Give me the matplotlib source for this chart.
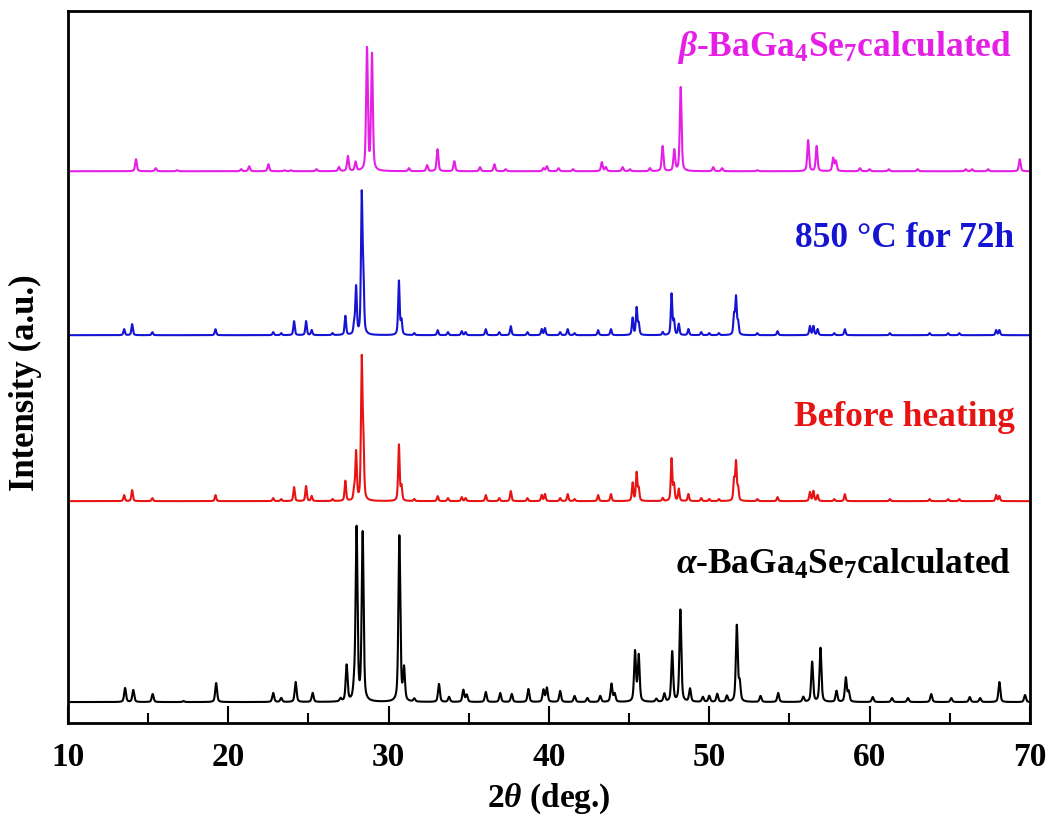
import numpy as np
import matplotlib
matplotlib.use("Agg")
import matplotlib.pyplot as plt

plt.rcParams['font.family'] = ['Liberation Serif', 'DejaVu Serif']
plt.rcParams['font.weight'] = 'bold'
plt.rcParams['mathtext.fontset'] = 'custom'
plt.rcParams['mathtext.rm'] = 'Liberation Serif:bold'
plt.rcParams['mathtext.it'] = 'Liberation Serif:bold:italic'
plt.rcParams['mathtext.bf'] = 'Liberation Serif:bold'
plt.rcParams['mathtext.default'] = 'regular'

# peak lists: position (2theta, deg) and height (a.u.)
alpha_pos = [13.56, 14.07, 15.28, 17.2, 19.24, 22.8, 23.3, 24.2, 25.26, 27.0, 27.38, 27.85, 28.0,
             28.38, 30.67, 30.96, 31.6, 33.14, 33.77, 34.66, 34.87, 36.06, 36.96, 37.68, 38.72,
             39.66, 39.87, 40.7, 41.6, 42.4, 43.2, 43.9, 44.1, 45.37, 45.6, 46.7, 47.2, 47.69,
             48.2, 48.8, 49.6, 50.0, 50.5, 51.1, 51.72, 51.9, 53.2, 54.3, 55.87, 56.42, 56.94,
             57.94, 58.52, 58.7, 60.2, 61.4, 62.4, 63.85, 65.1, 66.25, 66.9, 68.1, 69.7]
alpha_int = [14, 12, 8, 1, 19, 9, 4, 20, 9, 3, 36, 12, 172,
             168, 166, 32, 3, 18, 5, 12, 7, 10, 9, 8, 13,
             12, 14, 11, 6, 4, 6, 18, 8, 50, 46, 3, 8, 50,
             92, 13, 5, 6, 8, 6, 76, 18, 6, 9, 5, 40, 54,
             11, 24, 10, 5, 4, 4, 8, 4, 5, 4, 20, 7]

before_pos = [13.5, 14.0, 15.26, 19.2, 22.8, 23.3, 24.1, 24.85, 25.2, 26.5, 27.3, 27.85, 27.97,
              28.32, 28.42, 30.64, 30.8, 31.6, 33.06, 33.7, 34.56, 34.8, 36.06, 36.9, 37.62,
              38.66, 39.55, 39.75, 40.7, 41.17, 41.6, 43.07, 43.87, 45.22, 45.47, 45.6, 47.1,
              47.65, 47.8, 48.1, 48.7, 49.5, 50.0, 50.6, 51.55, 51.67, 51.8, 53.0, 54.26, 56.28,
              56.5, 56.76, 57.8, 58.46, 61.27, 63.75, 64.9, 65.6, 67.9, 68.1]
before_int = [6, 11, 3, 6, 3, 2, 14, 15, 5, 2, 20, 10, 48,
              136, 56, 56, 14, 2, 5, 3, 4, 3, 6, 3, 10,
              3, 6, 7, 3, 7, 2, 6, 7, 18, 28, 12, 3,
              42, 16, 12, 7, 3, 2, 2, 20, 38, 12, 2, 4, 9,
              10, 6, 2, 7, 2, 2, 2, 2, 6, 5]

heated_pos = before_pos
heated_int = [6, 11, 3, 6, 3, 2, 14, 14, 5, 2, 19, 10, 47,
              135, 54, 54, 14, 2, 5, 3, 4, 3, 6, 3, 9,
              3, 6, 7, 3, 6, 2, 5, 6, 17, 27, 11, 3,
              41, 14, 11, 6, 3, 2, 2, 19, 37, 12, 2, 4, 9,
              9, 6, 2, 6, 2, 2, 2, 2, 5, 5]

beta_pos = [14.24, 15.47, 16.8, 20.8, 21.3, 22.5, 23.5, 23.9, 25.5, 26.9, 27.46, 27.94, 28.65,
            28.96, 31.27, 32.4, 33.05, 34.1, 35.7, 36.6, 37.3, 39.66, 39.87, 40.6, 41.5, 43.3,
            43.55, 44.6, 45.05, 46.3, 47.09, 47.82, 48.22, 50.25, 50.8, 53.0, 56.17, 56.7, 57.73,
            57.9, 59.4, 60.0, 61.2, 63.0, 66.0, 66.4, 67.4, 69.37]
beta_int = [12, 3, 1, 2, 5, 7, 1, 1, 2, 4, 15, 9, 122,
            116, 3, 6, 22, 10, 4, 7, 2, 3, 5, 3, 2, 9,
            4, 4, 2, 3, 25, 21, 84, 4, 3, 1, 31, 25, 13,
            10, 3, 2, 2, 2, 2, 2, 2, 12]

offsets = [552, 388, 222, 21]


def pattern(x, pos, inten, fwhm):
    y = np.zeros_like(x)
    for p, h in zip(pos, inten):
        g = np.exp(-4 * np.log(2) * ((x - p) / fwhm) ** 2)
        l = 1 / (1 + 4 * ((x - p) / fwhm) ** 2)
        y += h * (0.5 * g + 0.5 * l)
    return y


x = np.arange(10, 70.001, 0.004)

fig = plt.figure(figsize=(10.53, 8.2), dpi=100)
ax = fig.add_axes([0.0646, 0.117, 0.9134, 0.868])

series = [
    (beta_pos, beta_int, 0.13, offsets[0], '#E51FE5'),
    (heated_pos, heated_int, 0.11, offsets[1], '#1414D2'),
    (before_pos, before_int, 0.11, offsets[2], '#E81414'),
    (alpha_pos, alpha_int, 0.14, offsets[3], 'black'),
]
for pos, inten, w, off, col in series:
    ax.plot(x, pattern(x, pos, inten, w) + off, color=col, lw=1.5)

ax.set_xlim(10, 70)
ax.set_ylim(0, 712)
ax.set_xticks(np.arange(10, 71, 10))
ax.set_xticks(np.arange(15, 70, 10), minor=True)
ax.set_yticks([])
ax.tick_params(axis='x', which='major', direction='in', length=12, width=1.5,
               labelsize=24, pad=13)
ax.tick_params(axis='x', which='minor', direction='in', length=7, width=1.5)
for s in ax.spines.values():
    s.set_linewidth(2)

ax.set_xlabel(r"2$\mathit{\theta}$ (deg.)", fontsize=24, fontweight='bold', labelpad=6)
ax.set_ylabel("Intensity (a.u.)", fontsize=25, fontweight='bold')
ax.yaxis.set_label_coords(-0.027, 0.48)

kw = dict(ha='right', va='center', fontsize=25.5, fontweight='bold')
ax.text(68.85, 677, r"$\mathit{\beta}$-BaGa$_4$Se$_7$calculated", color='#E51FE5', **kw)
ax.text(69.0, 486, "850 °C for 72h", color='#1414D2', **kw)
ax.text(69.05, 307, "Before heating", color='#E81414', **kw)
ax.text(68.85, 159, r"$\mathit{\alpha}$-BaGa$_4$Se$_7$calculated", color='black', **kw)

fig.savefig("out.png", dpi=100)
